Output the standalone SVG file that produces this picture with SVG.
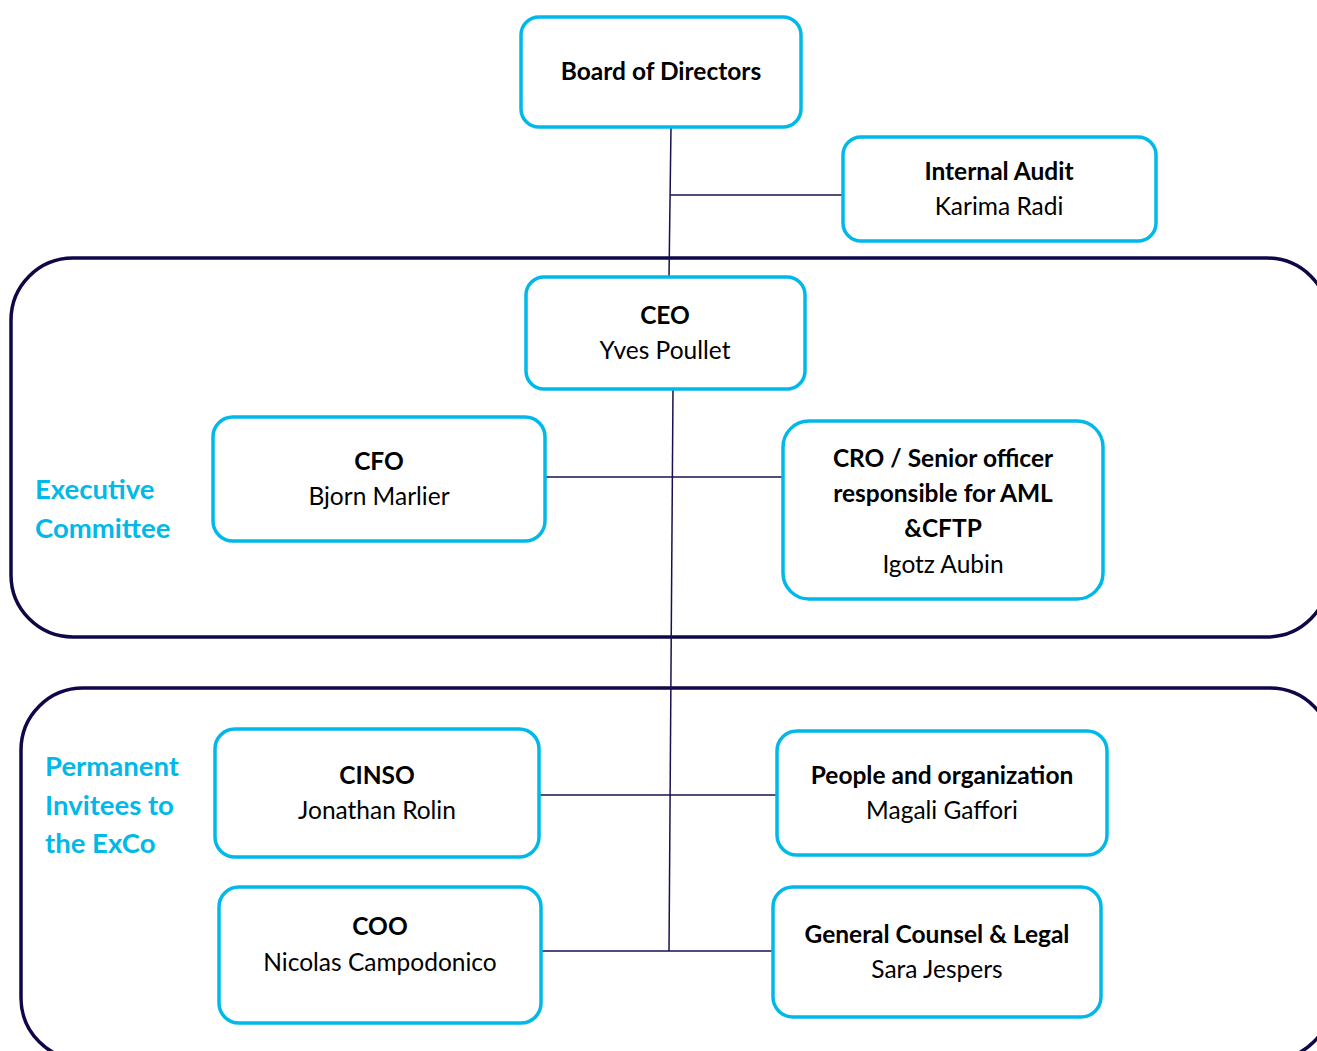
<svg xmlns="http://www.w3.org/2000/svg" width="1317" height="1051" viewBox="0 0 1317 1051">
<style>
.node{fill:#fff;stroke:#00b9e8;stroke-width:3.5}
.grp{fill:none;stroke:#0e0848;stroke-width:3.5}
.ln{stroke:#17124f;stroke-width:1.5;fill:none}
text{font-family:Lato,"Open Sans","Liberation Sans",sans-serif;font-size:24.5px;fill:#000;text-anchor:middle}
.b{font-weight:bold}
.lab{font-weight:bold;fill:#00b9e8;font-size:27.5px;text-anchor:start}
</style>
<rect x="0" y="0" width="1317" height="1051" fill="#fff"/>
<g id="group-exco">
<rect class="grp" x="11" y="258" width="1318" height="379" rx="62"/>
<text class="lab" x="35" y="499">Executive</text>
<text class="lab" x="35" y="538">Committee</text>
</g>
<g id="group-invitees">
<rect class="grp" x="21" y="688" width="1311" height="372" rx="62"/>
<text class="lab" x="45" y="776">Permanent</text>
<text class="lab" x="45" y="815">Invitees to</text>
<text class="lab" x="45" y="853">the ExCo</text>
</g>
<g id="connectors">
<line class="ln" x1="671" y1="127" x2="669" y2="277"/>
<line class="ln" x1="670" y1="195" x2="843" y2="195"/>
<line class="ln" x1="673" y1="389" x2="669" y2="951"/>
<line class="ln" x1="541" y1="477" x2="783" y2="477"/>
<line class="ln" x1="535" y1="795" x2="777" y2="795"/>
<line class="ln" x1="537" y1="951" x2="773" y2="951"/>
</g>
<g id="board">
<rect class="node" x="521" y="17" width="280" height="110" rx="18"/>
<text class="b" x="661" y="80">Board of Directors</text>
</g>
<g id="audit">
<rect class="node" x="843" y="137" width="313" height="104" rx="18"/>
<text class="b" x="999" y="180">Internal Audit</text>
<text x="999" y="215">Karima Radi</text>
</g>
<g id="ceo">
<rect class="node" x="526" y="277" width="279" height="112" rx="18"/>
<text class="b" x="665" y="324">CEO</text>
<text x="665" y="359">Yves Poullet</text>
</g>
<g id="cfo">
<rect class="node" x="213" y="417" width="332" height="124" rx="20"/>
<text class="b" x="379" y="470">CFO</text>
<text x="379" y="505">Bjorn Marlier</text>
</g>
<g id="cro">
<rect class="node" x="783" y="421" width="320" height="178" rx="26"/>
<text class="b" x="943" y="467">CRO / Senior officer</text>
<text class="b" x="943" y="502">responsible for AML</text>
<text class="b" x="943" y="537">&amp;CFTP</text>
<text x="943" y="573">Igotz Aubin</text>
</g>
<g id="cinso">
<rect class="node" x="215" y="729" width="324" height="128" rx="20"/>
<text class="b" x="377" y="784">CINSO</text>
<text x="377" y="819">Jonathan Rolin</text>
</g>
<g id="people">
<rect class="node" x="777" y="731" width="330" height="124" rx="20"/>
<text class="b" x="942" y="784">People and organization</text>
<text x="942" y="819">Magali Gaffori</text>
</g>
<g id="coo">
<rect class="node" x="219" y="887" width="322" height="136" rx="20"/>
<text class="b" x="380" y="935">COO</text>
<text x="380" y="971">Nicolas Campodonico</text>
</g>
<g id="legal">
<rect class="node" x="773" y="887" width="328" height="130" rx="20"/>
<text class="b" x="937" y="943">General Counsel &amp; Legal</text>
<text x="937" y="978">Sara Jespers</text>
</g>
</svg>
